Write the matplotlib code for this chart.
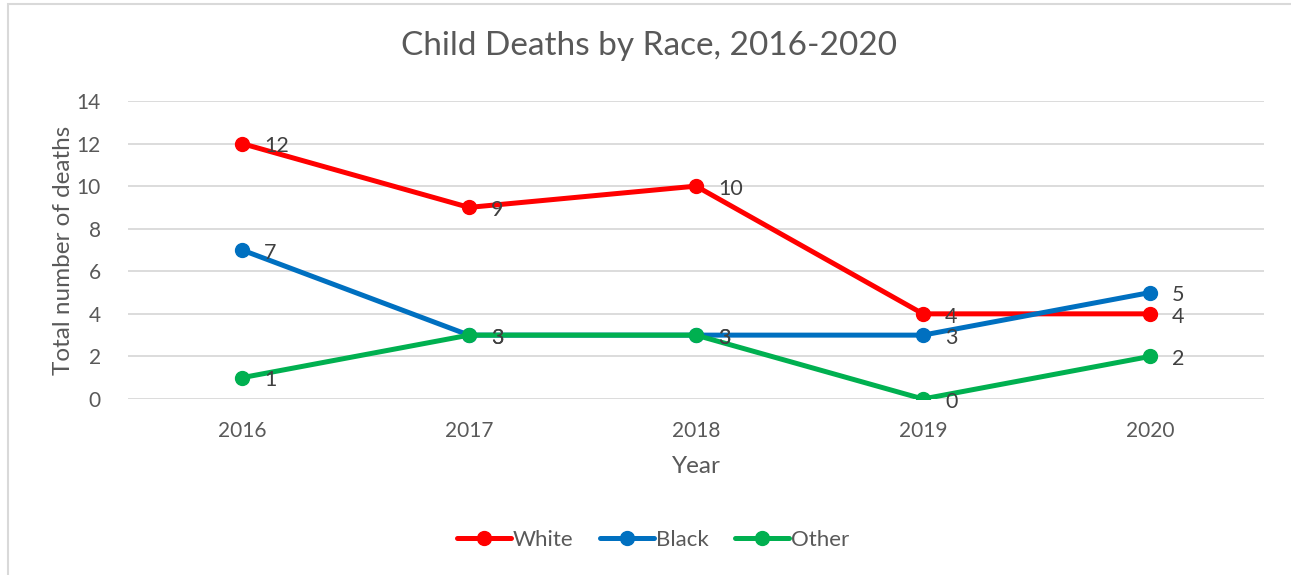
import matplotlib.pyplot as plt
from matplotlib.patches import Rectangle

# Chart data
years = ['2016', '2017', '2018', '2019', '2020']
white = [12, 9, 10, 4, 4]
black = [7, 3, 3, 3, 5]
other = [1, 3, 3, 0, 2]

series = [('White', white, '#FF0000'),
          ('Black', black, '#0070C0'),
          ('Other', other, '#00B050')]

plt.rcParams['font.family'] = ['Lato', 'DejaVu Sans']
text_col = '#595959'

fig = plt.figure(figsize=(12.91, 5.75), dpi=100)
ax = fig.add_axes([0.0995, 0.3061, 0.8792, 0.5183])

x = list(range(len(years)))
for name, vals, col in series:
    ax.plot(x, vals, color=col, linewidth=3.6, marker='o', markersize=10,
            label=name, solid_capstyle='round')
    for xi, v in zip(x, vals):
        ax.annotate(str(v), (xi, v), xytext=(16, -2), textcoords='offset points',
                    ha='left', va='center', fontsize=15.5, color='#404040')

ax.set_xlim(-0.5, 4.5)
ax.set_ylim(0, 14)
ax.set_yticks(range(0, 15, 2))
ax.set_xticks(x)
ax.set_xticklabels(years)
ax.grid(axis='y', color='#D9D9D9', linewidth=1.3)
ax.set_axisbelow(True)
for s in ax.spines.values():
    s.set_visible(False)
ax.tick_params(length=0, labelsize=15, colors=text_col)
ax.tick_params(axis='x', pad=16)
ax.tick_params(axis='y', pad=20)

ax.set_xlabel('Year', fontsize=17.5, color=text_col, labelpad=11)
ax.set_ylabel('Total number of deaths', fontsize=17.5, color=text_col, labelpad=2)
fig.text(0.503, 0.92, 'Child Deaths by Race, 2016-2020', ha='center', va='center',
         fontsize=24, color=text_col)

ax.legend(loc='center', bbox_to_anchor=(0.506, 0.061), bbox_transform=fig.transFigure,
          ncol=3, frameon=False, fontsize=16, labelcolor=text_col,
          handlelength=2.4, handletextpad=0.1, columnspacing=1.2)

# chart border (only left and top visible in the crop)
fig.patches.append(Rectangle((8 / 1291, -0.1), 1.2, 1.1 - 4 / 575, transform=fig.transFigure,
                             fill=False, edgecolor='#D9D9D9', linewidth=1.5))

fig.savefig('out.png', dpi=100)
